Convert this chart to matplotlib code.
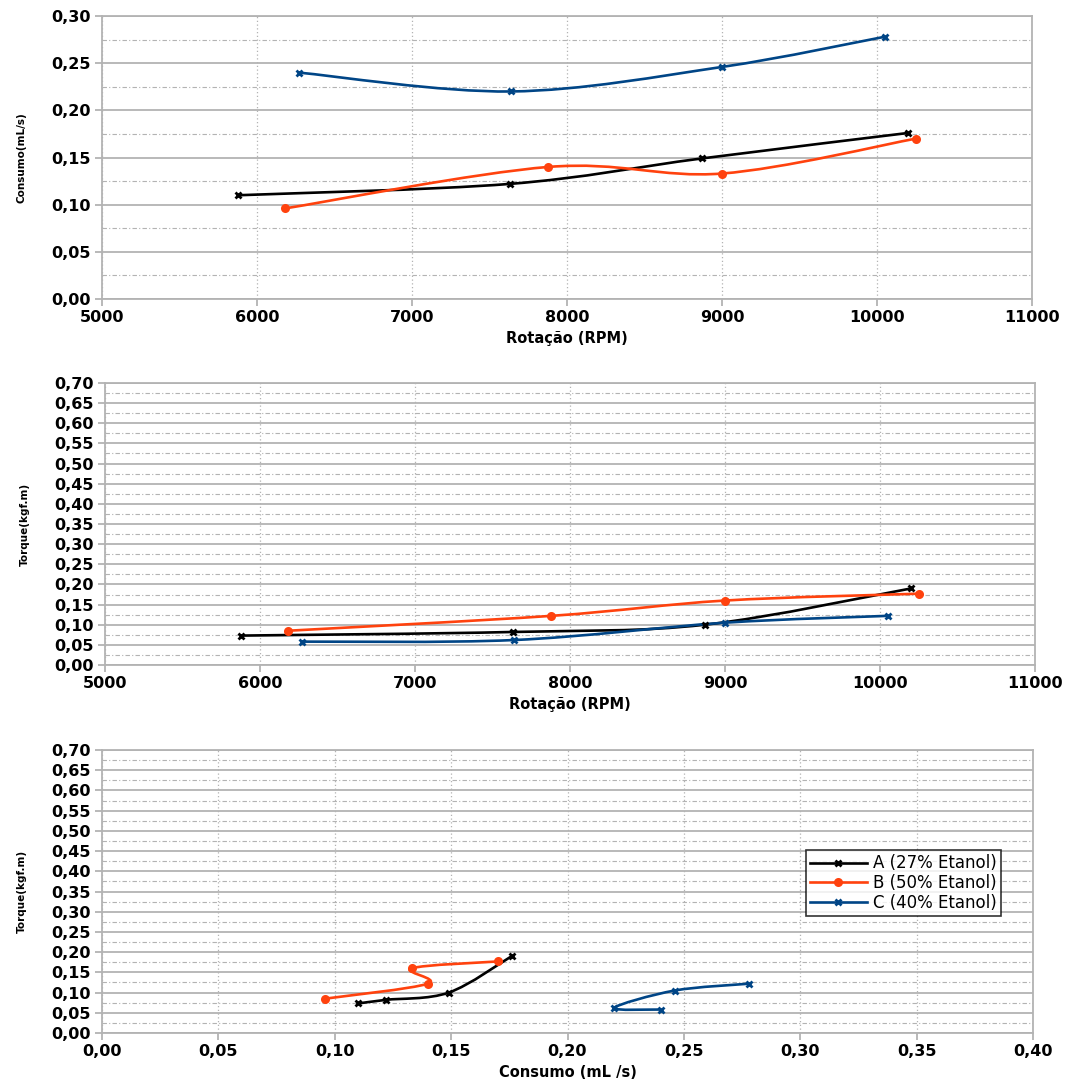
import matplotlib
matplotlib.use("Agg")
import matplotlib.pyplot as plt
import numpy as np
from matplotlib.path import Path
from matplotlib.patches import PathPatch
from matplotlib.ticker import FuncFormatter, MultipleLocator

plt.rcParams["font.family"] = ["DejaVu Sans"]

# data
labels = ["A (27% Etanol)", "B (50% Etanol)", "C (40% Etanol)"]
colors = ["#000000", "#ff420e", "#004586"]
markers = ["x", "o", "x"]

rpm_a = [5880, 7630, 8870, 10200]
rpm_b = [6180, 7880, 9000, 10250]
rpm_c = [6270, 7640, 9000, 10050]

cons_a = [0.110, 0.122, 0.149, 0.176]
cons_b = [0.096, 0.140, 0.133, 0.170]
cons_c = [0.240, 0.220, 0.246, 0.278]

torq_a = [0.073, 0.082, 0.100, 0.190]
torq_b = [0.085, 0.122, 0.160, 0.177]
torq_c = [0.058, 0.062, 0.105, 0.122]

GRID = "#b3b3b3"


def smooth(ax, xs, ys, color):
    # smoothed line (Catmull-Rom as cubic Bezier) like the spreadsheet "smooth line" option
    p = np.column_stack([xs, ys]).astype(float)
    verts = [p[0]]
    codes = [Path.MOVETO]
    n = len(p)
    for i in range(n - 1):
        p0 = p[i - 1] if i > 0 else p[i]
        p3 = p[i + 2] if i + 2 < n else p[i + 1]
        c1 = p[i] + (p[i + 1] - p0) / 6
        c2 = p[i + 1] - (p3 - p[i]) / 6
        verts += [c1, c2, p[i + 1]]
        codes += [Path.CURVE4] * 3
    ax.add_patch(PathPatch(Path(verts, codes), fc="none", ec=color, lw=1.9, zorder=3))


def style(ax, xlim, xstep, ylim, xfmt, xlabel, ylabel):
    ax.set_xlim(*xlim)
    ax.set_ylim(*ylim)
    ax.xaxis.set_major_locator(MultipleLocator(xstep))
    ax.yaxis.set_major_locator(MultipleLocator(0.05))
    ax.yaxis.set_minor_locator(MultipleLocator(0.025))
    ax.yaxis.set_major_formatter(FuncFormatter(lambda v, _: f"{v:.2f}".replace(".", ",")))
    ax.xaxis.set_major_formatter(FuncFormatter(xfmt))
    ax.grid(axis="y", which="major", color=GRID, lw=1.3, ls="-")
    ax.grid(axis="y", which="minor", color=GRID, lw=0.8, ls=(0, (4, 2, 1, 2)))
    ax.grid(axis="x", which="major", color=GRID, lw=0.9, ls=(0, (1, 2)))
    for s in ax.spines.values():
        s.set_color(GRID)
        s.set_linewidth(1.3)
    ax.tick_params(which="major", length=5, color=GRID, width=1.3, labelsize=11.5, pad=3)
    ax.tick_params(which="minor", length=0)
    for t in ax.get_xticklabels() + ax.get_yticklabels():
        t.set_fontweight("bold")
    ax.set_xlabel(xlabel, fontsize=10.5, fontweight="bold", labelpad=4)
    ax.set_ylabel(ylabel, fontsize=7.5, fontweight="bold", labelpad=18)
    ax.set_axisbelow(True)


fig = plt.figure(figsize=(10.67, 10.82), dpi=100)
W, H = 1067, 1082
ax1 = fig.add_axes([102 / W, 1 - 299 / H, 930 / W, 283 / H])
ax2 = fig.add_axes([105 / W, 1 - 665 / H, 930 / W, 282 / H])
ax3 = fig.add_axes([102 / W, 1 - 1033 / H, 931 / W, 283 / H])

rpm = [rpm_a, rpm_b, rpm_c]
cons = [cons_a, cons_b, cons_c]
torq = [torq_a, torq_b, torq_c]
msz = [5, 4.5, 5]

for i in range(3):
    smooth(ax1, rpm[i], cons[i], colors[i])
    ax1.plot(rpm[i], cons[i], ls="none", marker=markers[i], color=colors[i], ms=msz[i], mew=2, zorder=4)
    smooth(ax2, rpm[i], torq[i], colors[i])
    ax2.plot(rpm[i], torq[i], ls="none", marker=markers[i], color=colors[i], ms=msz[i], mew=2, zorder=4)
    smooth(ax3, cons[i], torq[i], colors[i])
    ax3.plot(cons[i], torq[i], ls="none", marker=markers[i], color=colors[i], ms=msz[i], mew=2, zorder=4)
    ax3.plot([], [], marker=markers[i], color=colors[i], lw=1.9, ms=msz[i], mew=2, label=labels[i])

rpm_fmt = lambda v, _: f"{v:.0f}"
style(ax1, (5000, 11000), 1000, (0, 0.30), rpm_fmt, "Rotação (RPM)", "Consumo(mL/s)")
style(ax2, (5000, 11000), 1000, (0, 0.70), rpm_fmt, "Rotação (RPM)", "Torque(kgf.m)")
style(ax3, (0, 0.40), 0.05, (0, 0.70), lambda v, _: f"{v:.2f}".replace(".", ","),
      "Consumo (mL /s)", "Torque(kgf.m)")

leg = ax3.legend(loc="upper right", bbox_to_anchor=(0.975, 0.675), fontsize=12,
                 frameon=True, fancybox=False, edgecolor="black", handlelength=3.4,
                 borderpad=0.25, labelspacing=0.1, handletextpad=0.4)
leg.get_frame().set_linewidth(1.2)

fig.savefig("out.png", dpi=100)
